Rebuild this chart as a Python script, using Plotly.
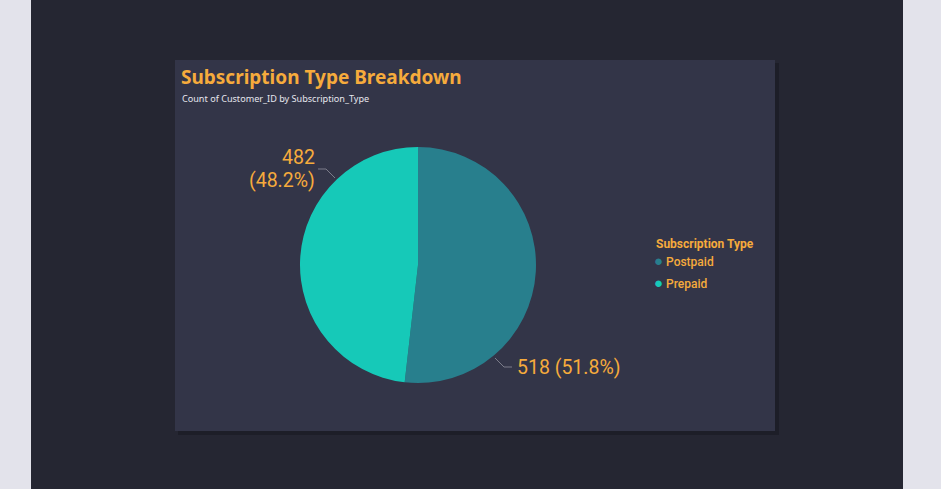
import plotly.graph_objects as go

# ---- data ----
categories = ["Postpaid", "Prepaid"]
counts = [518, 482]
colors = ["#287f8d", "#16c9b8"]
legend_title = "Subscription Type"

W, H = 941, 489
ORANGE = "#f6ab3c"

def px(x):
    return x / W

def py(y):
    return 1 - y / H

total = sum(counts)
pct = [c / total * 100 for c in counts]

fig = go.Figure()

fig.add_trace(go.Pie(
    labels=categories,
    values=counts,
    marker=dict(colors=colors, line=dict(width=0)),
    sort=False,
    direction="clockwise",
    rotation=0,
    textinfo="none",
    hoverinfo="label+value+percent",
    showlegend=False,
    domain=dict(x=[px(300), px(536)], y=[py(383), py(147)]),
))

# legend entries: coloured circle glyph inside the label, marker hidden
for cat, col in zip(categories, colors):
    fig.add_trace(go.Scatter(
        x=[None], y=[None], mode="markers",
        name=f"<span style='color:{col};font-size:15px'>●</span> {cat}",
        legendgroup=cat,
        marker=dict(symbol="circle", size=1, color="rgba(0,0,0,0)"),
        showlegend=True,
    ))

shapes = [
    # dark page
    dict(type="rect", xref="paper", yref="paper", x0=px(31), x1=px(903), y0=0, y1=1,
         fillcolor="#252632", line=dict(width=0), layer="below"),
    # card shadow
    dict(type="rect", xref="paper", yref="paper", x0=px(178), x1=px(779), y0=py(435), y1=py(63),
         fillcolor="#1d1e28", line=dict(width=0), layer="below"),
    # card
    dict(type="rect", xref="paper", yref="paper", x0=px(175), x1=px(775), y0=py(431), y1=py(60),
         fillcolor="#333548", line=dict(width=0), layer="below"),
    # leader lines
    dict(type="path", xref="paper", yref="paper",
         path=f"M {px(318)},{py(169)} L {px(326)},{py(169)} L {px(335)},{py(178)}",
         line=dict(color="#7c7d8a", width=1)),
    dict(type="path", xref="paper", yref="paper",
         path=f"M {px(495)},{py(358)} L {px(504)},{py(367)} L {px(512)},{py(367)}",
         line=dict(color="#7c7d8a", width=1)),
]

label_font = dict(family="Roboto", size=19.5, color=ORANGE)
annotations = [
    dict(text="Subscription Type Breakdown", x=px(179), y=py(77), xref="paper", yref="paper",
         xanchor="left", yanchor="middle", showarrow=False,
         font=dict(family="Noto Sans", size=19, color=ORANGE, weight="bold")),
    dict(text="Count of Customer_ID by Subscription_Type", x=px(180), y=py(98), xref="paper", yref="paper",
         xanchor="left", yanchor="middle", showarrow=False,
         font=dict(family="Noto Sans", size=9.1, color="#e6e6ee")),
    dict(text=f"{counts[1]}", x=px(317), y=py(157), xref="paper", yref="paper",
         xanchor="right", yanchor="middle", showarrow=False, font=label_font),
    dict(text=f"({pct[1]:.1f}%)", x=px(317), y=py(180), xref="paper", yref="paper",
         xanchor="right", yanchor="middle", showarrow=False, font=label_font),
    dict(text=f"{counts[0]} ({pct[0]:.1f}%)", x=px(515), y=py(367), xref="paper", yref="paper",
         xanchor="left", yanchor="middle", showarrow=False, font=label_font),
    dict(text=f"<b>{legend_title}</b>", x=px(654), y=py(244), xref="paper", yref="paper",
         xanchor="left", yanchor="middle", showarrow=False,
         font=dict(family="Roboto", size=12, color=ORANGE)),
]

fig.update_layout(
    width=W, height=H,
    margin=dict(l=0, r=0, t=0, b=0),
    paper_bgcolor="#e3e3eb",
    plot_bgcolor="rgba(0,0,0,0)",
    xaxis=dict(visible=False),
    yaxis=dict(visible=False),
    shapes=shapes,
    annotations=annotations,
    legend=dict(
        x=px(614), y=py(247), xanchor="left", yanchor="top",
        bgcolor="rgba(0,0,0,0)",
        font=dict(family="Roboto", size=12, color=ORANGE, weight=500),
        tracegroupgap=3,
        itemwidth=30,
    ),
)

fig.write_html("out.html")
